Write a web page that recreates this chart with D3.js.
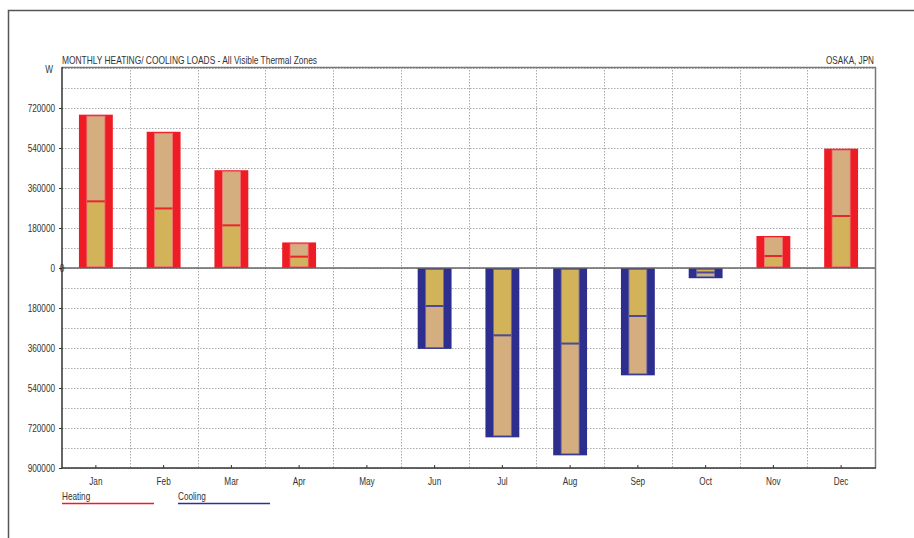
<!DOCTYPE html>
<html><head><meta charset="utf-8">
<script src="https://cdn.jsdelivr.net/npm/d3@7"></script>
<style>
html,body{margin:0;padding:0;background:#fff;}
svg text{font-family:"Liberation Sans",Arial,sans-serif;fill:#333;}
</style></head>
<body><svg id="c" width="914" height="538"></svg>
<script>
const months = ["Jan","Feb","Mar","Apr","May","Jun","Jul","Aug","Sep","Oct","Nov","Dec"];
const heatTotal = [690000, 613000, 440000, 115000, 0, 0, 0, 0, 0, 0, 144000, 537000];
const heatSplit = [300000, 268000, 192000, 51000, 0, 0, 0, 0, 0, 0, 54000, 234000];
const coolTotal = [0, 0, 0, 0, 0, 364000, 762000, 843000, 483000, 46000, 0, 0];
const coolSplit = [0, 0, 0, 0, 0, 171000, 303000, 340000, 216000, 20000, 0, 0];
const yTicks = [720000, 540000, 360000, 180000, 0, -180000, -360000, -540000, -720000, -900000];
const gridVals = d3.range(-900000, 900001, 90000);

const svg = d3.select("#c");
const L = 62, R = 875, T = 68, B = 468;
const x = d3.scaleBand().domain(months).range([L, R]);
const y = d3.scaleLinear().domain([-900000, 900000]).range([B, T]);

// outer frame
svg.append("path").attr("d", "M8.5,538 L8.5,10.5 L914,10.5").attr("fill","none").attr("stroke","#555").attr("stroke-width",1.5);

// grid
const g = svg.append("g");
g.selectAll(".hg").data(gridVals).join("line")
  .attr("x1", L).attr("x2", R).attr("y1", d => Math.round(y(d))+0.5).attr("y2", d => Math.round(y(d))+0.5)
  .attr("stroke", "#aaa").attr("stroke-dasharray", "1.5,1.5").attr("stroke-width", 1);
g.selectAll(".vg").data(months.slice(1)).join("line")
  .attr("x1", d => Math.round(x(d))+0.5).attr("x2", d => Math.round(x(d))+0.5).attr("y1", T-1).attr("y2", B)
  .attr("stroke", "#aaa").attr("stroke-dasharray", "1.5,1.5").attr("stroke-width", 1);

// plot border (top/right gray)
svg.append("path").attr("d", `M${L},${T-0.5} L${R+0.5},${T-0.5} L${R+0.5},${B}`).attr("fill","none").attr("stroke","#777").attr("stroke-width",1.5);

const bw = x.bandwidth()*0.5, iw = bw*0.53;
const cx = d => x(d) + x.bandwidth()/2;
const TAN = "#d5ae80", MUS = "#d2b35a";

function drawBars(total, split, outer, inStroke, sepCol, neg) {
  const gg = svg.append("g");
  months.forEach((m, i) => {
    if (!total[i]) return;
    const s = neg ? -1 : 1;
    const y0 = y(0), yt = y(s*total[i]), ys = y(s*split[i]);
    const top = Math.min(y0, yt), h = Math.abs(yt - y0);
    gg.append("rect").attr("x", cx(m)-bw/2).attr("y", top).attr("width", bw).attr("height", h).attr("fill", outer);
    const inset = 1.5;
    const yA0 = neg ? y0 + inset : ys, yA1 = neg ? ys : y0 - inset;
    const yB0 = neg ? ys : yt + inset, yB1 = neg ? yt - inset : ys;
    gg.append("rect").attr("x", cx(m)-iw/2).attr("y", Math.min(yA0,yA1)).attr("width", iw).attr("height", Math.abs(yA1-yA0))
      .attr("fill", MUS).attr("stroke", inStroke).attr("stroke-width", 0.8);
    gg.append("rect").attr("x", cx(m)-iw/2).attr("y", Math.min(yB0,yB1)).attr("width", iw).attr("height", Math.abs(yB1-yB0))
      .attr("fill", TAN).attr("stroke", inStroke).attr("stroke-width", 0.8);
    gg.append("line").attr("x1", cx(m)-iw/2).attr("x2", cx(m)+iw/2).attr("y1", ys).attr("y2", ys)
      .attr("stroke", sepCol).attr("stroke-width", 2);
  });
}
drawBars(heatTotal, heatSplit, "#ee1c25", "#f07a7a", "#e8262e", false);
drawBars(coolTotal, coolSplit, "#2e2e8e", "#6a6aa8", "#4a4a96", true);

// zero line
svg.append("line").attr("x1", L).attr("x2", R).attr("y1", y(0)).attr("y2", y(0)).attr("stroke", "#666").attr("stroke-width", 1.5);

// axes
const FS = 10.5;
const yAxis = d3.axisLeft(y).tickValues(yTicks).tickSize(3).tickPadding(4).tickFormat(d => String(Math.abs(d)));
const ya = svg.append("g").attr("transform", `translate(${L},0)`).call(yAxis);
ya.select(".domain").attr("stroke", "#333").attr("stroke-width", 1.5).attr("d", `M0,${T-1}V${B}`);
ya.selectAll(".tick line").attr("stroke", "#333");
ya.selectAll("text").attr("font-size", FS).attr("fill", "#333").attr("class", "cond");

const xAxis = d3.axisBottom(x).tickSize(-3).tickPadding(10);
const xa = svg.append("g").attr("transform", `translate(0,${B})`).call(xAxis);
xa.select(".domain").attr("stroke", "#333").attr("stroke-width", 1.5).attr("d", `M${L},0H${R+1}`);
xa.selectAll(".tick line").attr("stroke", "#333");
xa.selectAll("text").attr("font-size", FS).attr("fill", "#333").attr("class", "cond");

// extra 0 on axis
svg.append("text").attr("class","cond").attr("x", L).attr("y", y(0)+3.5).attr("text-anchor","middle").attr("font-size",FS).text("0");

// titles
svg.append("text").attr("x", 62).attr("y", 64).attr("font-size", FS)
  .attr("textLength", 255).attr("lengthAdjust","spacingAndGlyphs")
  .text("MONTHLY HEATING/ COOLING LOADS - All Visible Thermal Zones");
svg.append("text").attr("x", 826).attr("y", 64).attr("font-size", FS)
  .attr("textLength", 48).attr("lengthAdjust","spacingAndGlyphs").text("OSAKA, JPN");
svg.append("text").attr("class","cond").attr("x", 53).attr("y", 73).attr("text-anchor","end").attr("font-size", FS).text("W");

// legend
const legend = [{name:"Heating", col:"#ee1c25", x:62}, {name:"Cooling", col:"#2e3192", x:178}];
const lg = svg.append("g");
legend.forEach(l => {
  lg.append("text").attr("class","cond").attr("x", l.x).attr("y", 500).attr("font-size", FS).text(l.name);
  lg.append("line").attr("x1", l.x).attr("x2", l.x+92).attr("y1", 503.5).attr("y2", 503.5).attr("stroke", l.col).attr("stroke-width", 1.5);
});

// condense text like a narrow font
svg.selectAll("text.cond").each(function(){
  const len = this.getComputedTextLength();
  d3.select(this).attr("textLength", len*0.78).attr("lengthAdjust","spacingAndGlyphs");
});
</script></body></html>
